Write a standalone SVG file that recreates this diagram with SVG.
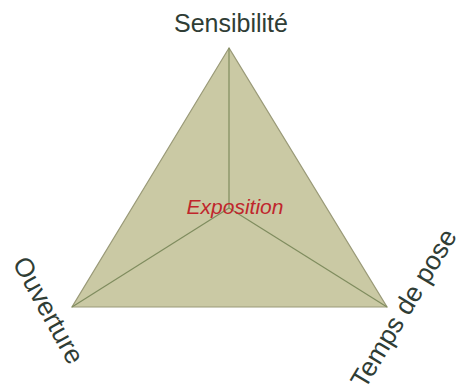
<svg xmlns="http://www.w3.org/2000/svg" width="464" height="390" viewBox="0 0 464 390">
<style>
.lbl{font-family:"Liberation Sans",Arial,sans-serif;font-size:25px;fill:#2f3d35}
.side{font-size:26.5px}
.center{font-family:"Liberation Sans",Arial,sans-serif;font-size:21px;font-style:italic;fill:#c0262c}
.edge{stroke:#7f8c5e;stroke-width:1.2;fill:none}
</style>
<rect width="464" height="390" fill="#ffffff"/>
<g id="triangle">
<polygon points="229,48 72,307 387,307" fill="#cac9a4" stroke="#9a9a78" stroke-width="1.2"/>
</g>
<g id="connectors">
<line class="edge" x1="229" y1="48" x2="229" y2="208"/>
<line class="edge" x1="229" y1="208" x2="72" y2="307"/>
<line class="edge" x1="229" y1="208" x2="387" y2="307"/>
</g>
<g id="exposition"><text class="center" x="235" y="214" text-anchor="middle">Exposition</text></g>
<g id="sensibilite"><text class="lbl" x="231" y="32" text-anchor="middle">Sensibilité</text></g>
<g id="ouverture"><text class="lbl side" transform="translate(12,263) rotate(61)">Ouverture</text></g>
<g id="temps"><text class="lbl side" transform="translate(365,390) rotate(-59)">Temps de pose</text></g>
</svg>
